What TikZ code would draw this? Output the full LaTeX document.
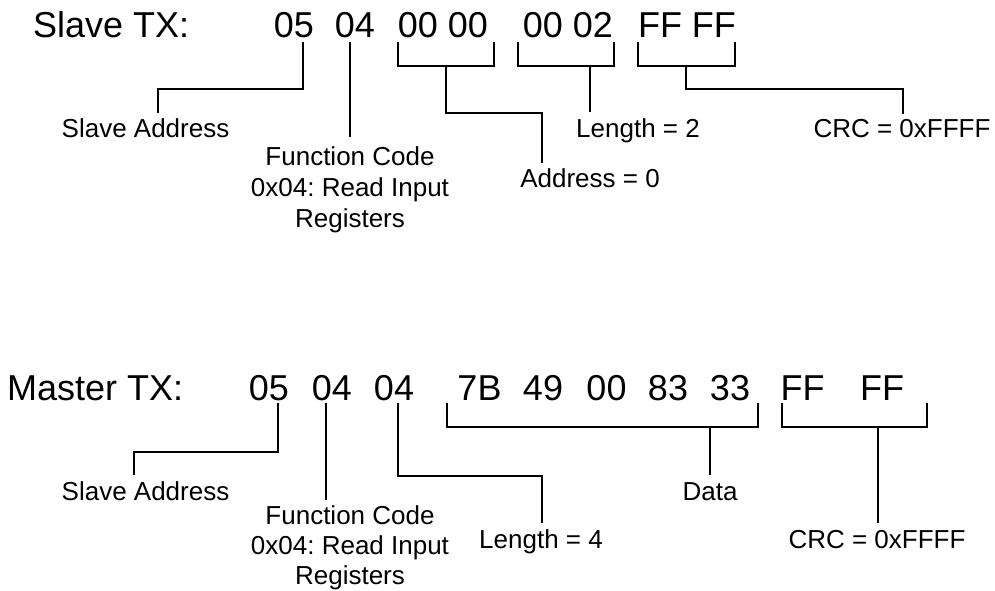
\documentclass[tikz,border=0pt]{standalone}
\usepackage{fontspec}
\setmainfont{Liberation Sans}
\frenchspacing
\begin{document}
\begin{tikzpicture}[x=1pt,y=-1pt,
  big/.style={inner sep=0pt,anchor=base,font=\fontsize{36}{40}\selectfont},
  lbl/.style={inner sep=0pt,anchor=base,font=\fontsize{26}{31.5}\selectfont},
  lblm/.style={inner sep=0pt,anchor=north,align=center,font=\fontsize{26}{31}\selectfont},
  conn/.style={draw=black,line width=1.5pt}]
\useasboundingbox (0,0) rectangle (995,591);
% ---------- Slave TX ----------
\node[big,anchor=base west] (st) at (33,38) {Slave TX:};
\node[big] (s1) at (294,38) {05};
\node[big] (s2) at (355,38) {04};
\node[big] (s3) at (443,38) {00 00};
\node[big] (s4) at (568,38) {00 02};
\node[big] (s5) at (687,38) {FF FF};
\node[lbl] (sA) at (145.5,138) {Slave Address};
\node[lblm] (sF) at (350,146) {Function Code\\0x04: Read Input\\Registers};
\node[lbl] (sAd) at (590,187) {Address = 0};
\node[lbl] (sL) at (638,138) {Length = 2};
\node[lbl] (sC) at (902,138) {CRC = 0xFFFF};
% coordinates
\coordinate (s1a) at (303,42); \coordinate (s1b) at (158,113);
\coordinate (s2a) at (350,42); \coordinate (s2b) at (350,137);
\coordinate (s3l) at (398,42); \coordinate (s3r) at (494,42);
\coordinate (s3m) at (446,66); \coordinate (s3b) at (542,163);
\coordinate (s4l) at (518,42); \coordinate (s4r) at (614,42);
\coordinate (s4m) at (590,66); \coordinate (s4b) at (590,112);
\coordinate (s5l) at (638,42); \coordinate (s5r) at (735,42);
\coordinate (s5m) at (686,66); \coordinate (s5b) at (903,114);
\draw[conn] (s1a) |- (158,89) -- (s1b);
\draw[conn] (s2a) -- (s2b);
\draw[conn] (s3l) |- (494,66) -- (s3r);
\draw[conn] (s3m) |- (542,113) -- (s3b);
\draw[conn] (s4l) |- (614,66) -- (s4r);
\draw[conn] (s4m) -- (s4b);
\draw[conn] (s5l) |- (735,66) -- (s5r);
\draw[conn] (s5m) |- (903,89) -- (s5b);
% ---------- Master TX ----------
\node[big,anchor=base west] (mt) at (7,400) {Master TX:};
\node[big] (m1) at (269,400) {05};
\node[big] (m2) at (332,400) {04};
\node[big] (m3) at (394,400) {04};
\node[big] (m4) at (479.5,400) {7B};
\node[big] (m5) at (543,400) {49};
\node[big] (m6) at (606.5,400) {00};
\node[big] (m7) at (668,400) {83};
\node[big] (m8) at (730,400) {33};
\node[big] (m9) at (802.5,400) {FF};
\node[big] (m10) at (882,400) {FF};
\node[lbl] (mA) at (145.5,500) {Slave Address};
\node[lblm,font=\fontsize{26}{30}\selectfont] (mF) at (350,505) {Function Code\\0x04: Read Input\\Registers};
\node[lbl] (mL) at (541,548) {Length = 4};
\node[lbl] (mD) at (710,500) {Data};
\node[lbl] (mC) at (877,548) {CRC = 0xFFFF};
\coordinate (m1a) at (278,403); \coordinate (m1b) at (134,475);
\coordinate (m2a) at (326,403); \coordinate (m2b) at (326,500);
\coordinate (m3a) at (398,403); \coordinate (m3b) at (542,523);
\coordinate (mdl) at (447,403); \coordinate (mdr) at (758,403);
\coordinate (mdm) at (710,427); \coordinate (mdb) at (710,475);
\coordinate (mcl) at (782,403); \coordinate (mcr) at (927,403);
\coordinate (mcm) at (878,427); \coordinate (mcb) at (878,523);
\draw[conn] (m1a) |- (134,452) -- (m1b);
\draw[conn] (m2a) -- (m2b);
\draw[conn] (m3a) |- (542,476) -- (m3b);
\draw[conn] (mdl) |- (758,427) -- (mdr);
\draw[conn] (mdm) -- (mdb);
\draw[conn] (mcl) |- (927,427) -- (mcr);
\draw[conn] (mcm) -- (mcb);
\end{tikzpicture}
\end{document}
